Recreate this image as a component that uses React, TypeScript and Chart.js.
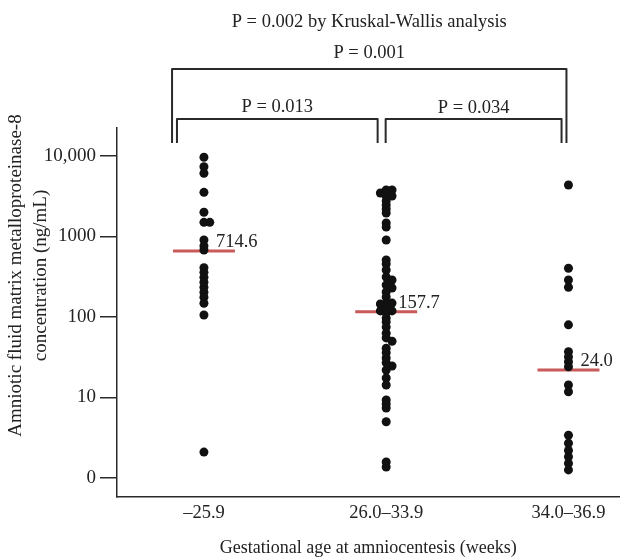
import React, { useEffect, useRef } from "react";
import { Chart, registerables } from "chart.js";

Chart.register(...registerables);

// ---- data ----
const categories = ["–25.9", "26.0–33.9", "34.0–36.9"];
const group1 = [9640, 7360, 6100, 3540, 2000, 1500, 1500, 905, 762, 680, 410, 359, 311, 270, 234, 203, 176, 148, 106, 2.1];
const group2 = [3780, 3780, 3470, 3190, 3190, 2760, 2460, 2200, 1960, 1470, 1310, 905, 511, 455, 384, 314, 288, 250, 229, 205, 177, 149, 149, 145, 129, 119, 119, 112, 97, 87, 75, 63, 55, 50, 41, 36, 31, 27, 24.6, 22, 17.5, 14.3, 9.3, 8.3, 7.4, 5.0, 1.58, 1.37];
const group3 = [4360, 403, 288, 234, 80, 37, 32, 27.8, 24.1, 14.3, 11.8, 3.4, 2.7, 2.2, 1.84, 1.52, 1.26];
const medianLines = [660, 116, 22];
const medianLabels = ["714.6", "157.7", "24.0"];
const yTicks = [1, 10, 100, 1000, 10000];
const yTickLabels = ["0", "10", "100", "1000", "10,000"];
const overallTitle = "P = 0.002 by Kruskal-Wallis analysis";
const pairLabels = ["P = 0.001", "P = 0.013", "P = 0.034"];
const xTitle = "Gestational age at amniocentesis (weeks)";
const yTitle = ["Amniotic fluid matrix metalloproteinase-8", "concentration (ng/mL)"];

const FONT = "'Liberation Serif', 'DejaVu Serif', serif";
const TEXT = "#222";
const RED = "#c85a5a";
const FS = 18.5;

// simple deterministic dodge so coincident points sit side by side
function dodge(values: number[], center: number) {
  const placed: { o: number; l: number }[] = [];
  const step = 0.032;
  const thr = 0.045;
  return values.map((v) => {
    const l = Math.log10(v);
    const offsets = [0, step, -step];
    for (const o of offsets) {
      if (!placed.some((p) => Math.abs(p.o - o) < 0.001 && Math.abs(p.l - l) < thr)) {
        placed.push({ o, l });
        return { x: center + o, y: v };
      }
    }
    return { x: center, y: v };
  });
}

const annotations = {
  id: "annotations",
  afterDatasetsDraw(chart: any) {
    const { ctx, scales } = chart;
    const xs = scales.x;
    const ys = scales.y;
    ctx.save();
    ctx.fillStyle = TEXT;
    ctx.font = `${FS}px ${FONT}`;
    ctx.textAlign = "left";
    ctx.textBaseline = "alphabetic";
    medianLabels.forEach((t, i) => {
      const px = xs.getPixelForValue(i + 1) + 12;
      const py = ys.getPixelForValue(medianLines[i]) - 4;
      ctx.fillText(t, px, py);
    });
    ctx.restore();
  },
  afterDraw(chart: any) {
    const { ctx, chartArea, scales } = chart;
    const xs = scales.x;
    const top = chartArea.top;
    const px = (v: number) => xs.getPixelForValue(v);
    ctx.save();
    ctx.strokeStyle = "#2a2a2a";
    ctx.lineWidth = 2;
    ctx.lineJoin = "round";
    const bracket = (a: number, b: number, yTop: number, yBot: number) => {
      ctx.beginPath();
      ctx.moveTo(px(a), yBot);
      ctx.lineTo(px(a), yTop);
      ctx.lineTo(px(b), yTop);
      ctx.lineTo(px(b), yBot);
      ctx.stroke();
    };
    const spans = [
      [0.825, 2.989, top - 59],
      [0.852, 1.953, top - 9],
      [1.997, 2.962, top - 9],
    ];
    spans.forEach(([a, b, y]) => bracket(a, b, y, top + 15));
    ctx.fillStyle = TEXT;
    ctx.font = `${FS}px ${FONT}`;
    ctx.textAlign = "center";
    ctx.textBaseline = "middle";
    ctx.fillText(overallTitle, px((spans[0][0] + spans[0][1]) / 2), top - 106);
    ctx.fillText(pairLabels[0], px((spans[0][0] + spans[0][1]) / 2), top - 75);
    ctx.fillText(pairLabels[1], px((spans[1][0] + spans[1][1]) / 2), top - 21);
    ctx.fillText(pairLabels[2], px((spans[2][0] + spans[2][1]) / 2), top - 20);

    // y-axis title (two rotated lines)
    ctx.save();
    ctx.font = `19px ${FONT}`;
    ctx.translate(0, 0);
    const cy = (chartArea.top + chartArea.bottom) / 2 - 37;
    [16, 41].forEach((x, i) => {
      ctx.save();
      ctx.translate(x, cy);
      ctx.rotate(-Math.PI / 2);
      ctx.fillText(yTitle[i], 0, 0);
      ctx.restore();
    });
    ctx.restore();
    ctx.restore();
  },
};

export default function App() {
  const ref = useRef<HTMLCanvasElement | null>(null);
  useEffect(() => {
    document.body.style.margin = "0";
    const canvas = ref.current!;
    const groups = [group1, group2, group3];
    const scatterSets = groups.map((g, i) => ({
      type: "scatter" as const,
      data: dodge(g, i + 1),
      backgroundColor: "#111",
      borderColor: "#111",
      pointRadius: 4.5,
      pointBorderWidth: 0,
    }));
    const medianSets = medianLines.map((m, i) => ({
      type: "line" as const,
      data: [
        { x: i + 1 - 0.17, y: m },
        { x: i + 1 + 0.17, y: m },
      ],
      borderColor: RED,
      borderWidth: 3,
      pointRadius: 0,
    }));
    const chart = new Chart(canvas, {
      type: "scatter",
      data: { datasets: [...scatterSets, ...medianSets] as any },
      options: {
        animation: false,
        responsive: false,
        events: [],
        layout: { padding: { top: 128, right: 4, left: 0, bottom: 0 } },
        plugins: { legend: { display: false }, tooltip: { enabled: false } },
        scales: {
          x: {
            type: "linear",
            min: 0.523,
            max: 3.28,
            afterBuildTicks: (s: any) => {
              s.ticks = categories.map((_, i) => ({ value: i + 1 }));
            },
            afterFit: (s: any) => {
              s.height = 60;
            },
            ticks: {
              autoSkip: false,
              maxRotation: 0,
              padding: 5,
              color: TEXT,
              font: { family: FONT, size: FS },
              callback: (v: any) => categories[Math.round(v) - 1] ?? "",
            },
            grid: { display: false, drawTicks: false },
            border: { display: true, color: "#2a2a2a", width: 1.5 },
            title: {
              display: true,
              text: xTitle,
              color: TEXT,
              font: { family: FONT, size: 18 },
              padding: { top: 0, bottom: -2 },
            },
          },
          y: {
            type: "logarithmic",
            min: 0.581,
            max: 22280,
            afterBuildTicks: (s: any) => {
              s.ticks = yTicks.map((v) => ({ value: v }));
            },
            afterFit: (s: any) => {
              s.width = 117;
            },
            ticks: {
              autoSkip: false,
              padding: 4,
              color: TEXT,
              font: { family: FONT, size: 19 },
              callback: (v: any) => {
                const i = yTicks.indexOf(Number(v));
                return i >= 0 ? yTickLabels[i] : "";
              },
            },
            grid: {
              drawOnChartArea: false,
              drawTicks: true,
              tickLength: 17,
              color: "#2a2a2a",
              lineWidth: 1.5,
            },
            border: { display: true, color: "#2a2a2a", width: 1.5 },
            title: { display: false },
          },
        },
      },
      plugins: [annotations],
    } as any);
    return () => chart.destroy();
  }, []);
  return (
    <div style={{ width: 624, height: 557 }}>
      <canvas ref={ref} width={624} height={557} />
    </div>
  );
}
